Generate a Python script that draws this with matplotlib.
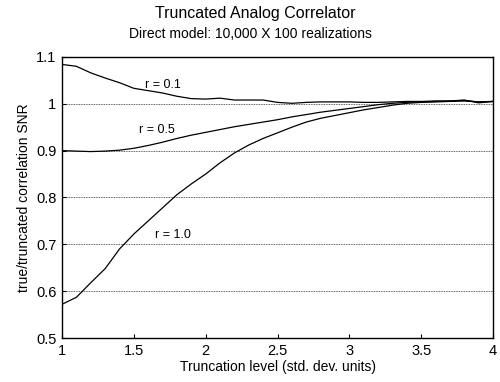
import matplotlib.pyplot as plt

plt.rcParams['font.family'] = ['Liberation Sans', 'DejaVu Sans']

# truncation level (std. dev. units)
trunc = [1.0, 1.1, 1.2, 1.3, 1.4, 1.5, 1.6, 1.7, 1.8, 1.9,
         2.0, 2.1, 2.2, 2.3, 2.4, 2.5, 2.6, 2.7, 2.8, 2.9,
         3.0, 3.1, 3.2, 3.3, 3.4, 3.5, 3.6, 3.7, 3.8, 3.9, 4.0]

# true/truncated correlation SNR for each r
snr_r01 = [1.084, 1.080, 1.066, 1.055, 1.045, 1.033, 1.028, 1.023, 1.016, 1.011,
           1.010, 1.012, 1.008, 1.008, 1.008, 1.003, 1.001, 1.003, 1.004, 1.004,
           1.004, 1.003, 1.003, 1.004, 1.005, 1.005, 1.006, 1.006, 1.008, 1.002, 1.005]
snr_r05 = [0.900, 0.899, 0.898, 0.899, 0.901, 0.905, 0.911, 0.918, 0.926, 0.933,
           0.939, 0.945, 0.951, 0.956, 0.961, 0.966, 0.972, 0.977, 0.982, 0.986,
           0.990, 0.994, 0.998, 1.001, 1.003, 1.004, 1.005, 1.006, 1.007, 1.004, 1.005]
snr_r10 = [0.572, 0.587, 0.618, 0.648, 0.690, 0.722, 0.750, 0.778, 0.806, 0.829,
           0.850, 0.874, 0.895, 0.912, 0.926, 0.938, 0.950, 0.961, 0.969, 0.975,
           0.981, 0.987, 0.992, 0.997, 1.001, 1.003, 1.004, 1.005, 1.006, 1.004, 1.005]

labels = ['r = 0.1', 'r = 0.5', 'r = 1.0']
label_pos = [(1.70, 1.041), (1.66, 0.944), (1.77, 0.719)]

fig = plt.figure(figsize=(5, 3.82), dpi=100)
ax = fig.add_axes([0.124, 0.115, 0.862, 0.736])

for y in [snr_r01, snr_r05, snr_r10]:
    ax.plot(trunc, y, color='black', lw=0.9)

for txt, (x, y) in zip(labels, label_pos):
    ax.text(x, y, txt, ha='center', va='center', fontsize=9)

ax.set_xlim(1, 4)
ax.set_ylim(0.5, 1.1)
ax.set_xticks([1, 1.5, 2, 2.5, 3, 3.5, 4])
ax.set_xticklabels(['1', '1.5', '2', '2.5', '3', '3.5', '4'])
ax.set_yticks([0.5, 0.6, 0.7, 0.8, 0.9, 1.0, 1.1])
ax.set_yticklabels(['0.5', '0.6', '0.7', '0.8', '0.9', '1', '1.1'])
ax.yaxis.grid(True, linestyle=(0, (1.2, 1.2)), color='black', lw=0.5)
ax.tick_params(direction='in', length=3, labelsize=10.5, pad=4)
for s in ax.spines.values():
    s.set_linewidth(1.0)

ax.set_xlabel('Truncation level (std. dev. units)', fontsize=10, labelpad=2)
ax.set_ylabel('true/truncated correlation SNR', fontsize=10, labelpad=4)

fig.text(0.51, 0.965, 'Truncated Analog Correlator', ha='center', va='center', fontsize=11.5)
fig.text(0.50, 0.912, 'Direct model: 10,000 X 100 realizations', ha='center', va='center', fontsize=10)

fig.savefig('out.png')
